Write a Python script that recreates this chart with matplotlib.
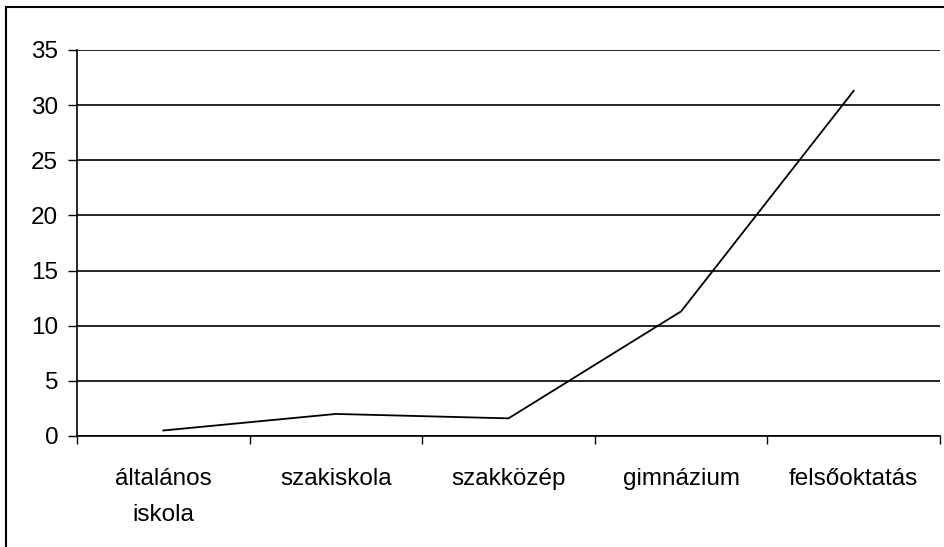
import matplotlib.pyplot as plt
from matplotlib.patches import Rectangle

# data
categories = ["általános\niskola", "szakiskola", "szakközép", "gimnázium", "felsőoktatás"]
values = [0.5, 2.0, 1.6, 11.3, 31.3]
y_ticks = [0, 5, 10, 15, 20, 25, 30, 35]

plt.rcParams['font.family'] = ['Liberation Sans', 'DejaVu Sans']

fig = plt.figure(figsize=(9.44, 5.47), dpi=100)
ax = fig.add_axes([77 / 944, 1 - 436 / 547, 863 / 944, 386 / 547])

x = list(range(len(categories)))
ax.plot(x, values, color='black', lw=1.3)

ax.set_xlim(-0.5, len(categories) - 0.5)
ax.set_ylim(0, 35)
ax.set_yticks(y_ticks)
ax.yaxis.grid(True, color='black', lw=1.2)
ax.set_axisbelow(True)

ax.set_xticks(x)
ax.set_xticklabels(categories, fontsize=17.5, linespacing=1.8, va='top')
ax.tick_params(axis='x', which='major', length=0, pad=23)
ax.set_xticks([i - 0.5 for i in range(len(categories) + 1)], minor=True)
ax.tick_params(axis='x', which='minor', length=6, width=1, color='black', direction='out')
ax.tick_params(axis='y', labelsize=17.5, length=6.5, width=1, pad=7)

for s in ['top', 'right']:
    ax.spines[s].set_visible(False)
for s in ['left', 'bottom']:
    ax.spines[s].set_linewidth(1.2)
    ax.spines[s].set_color('black')

# outer chart frame
fig.patches.append(Rectangle((6 / 944, -0.1), 1.2, 1 - 7 / 547 + 0.1,
                             transform=fig.transFigure, fill=False,
                             edgecolor='black', lw=1.5))

plt.savefig("out.png", dpi=100)
